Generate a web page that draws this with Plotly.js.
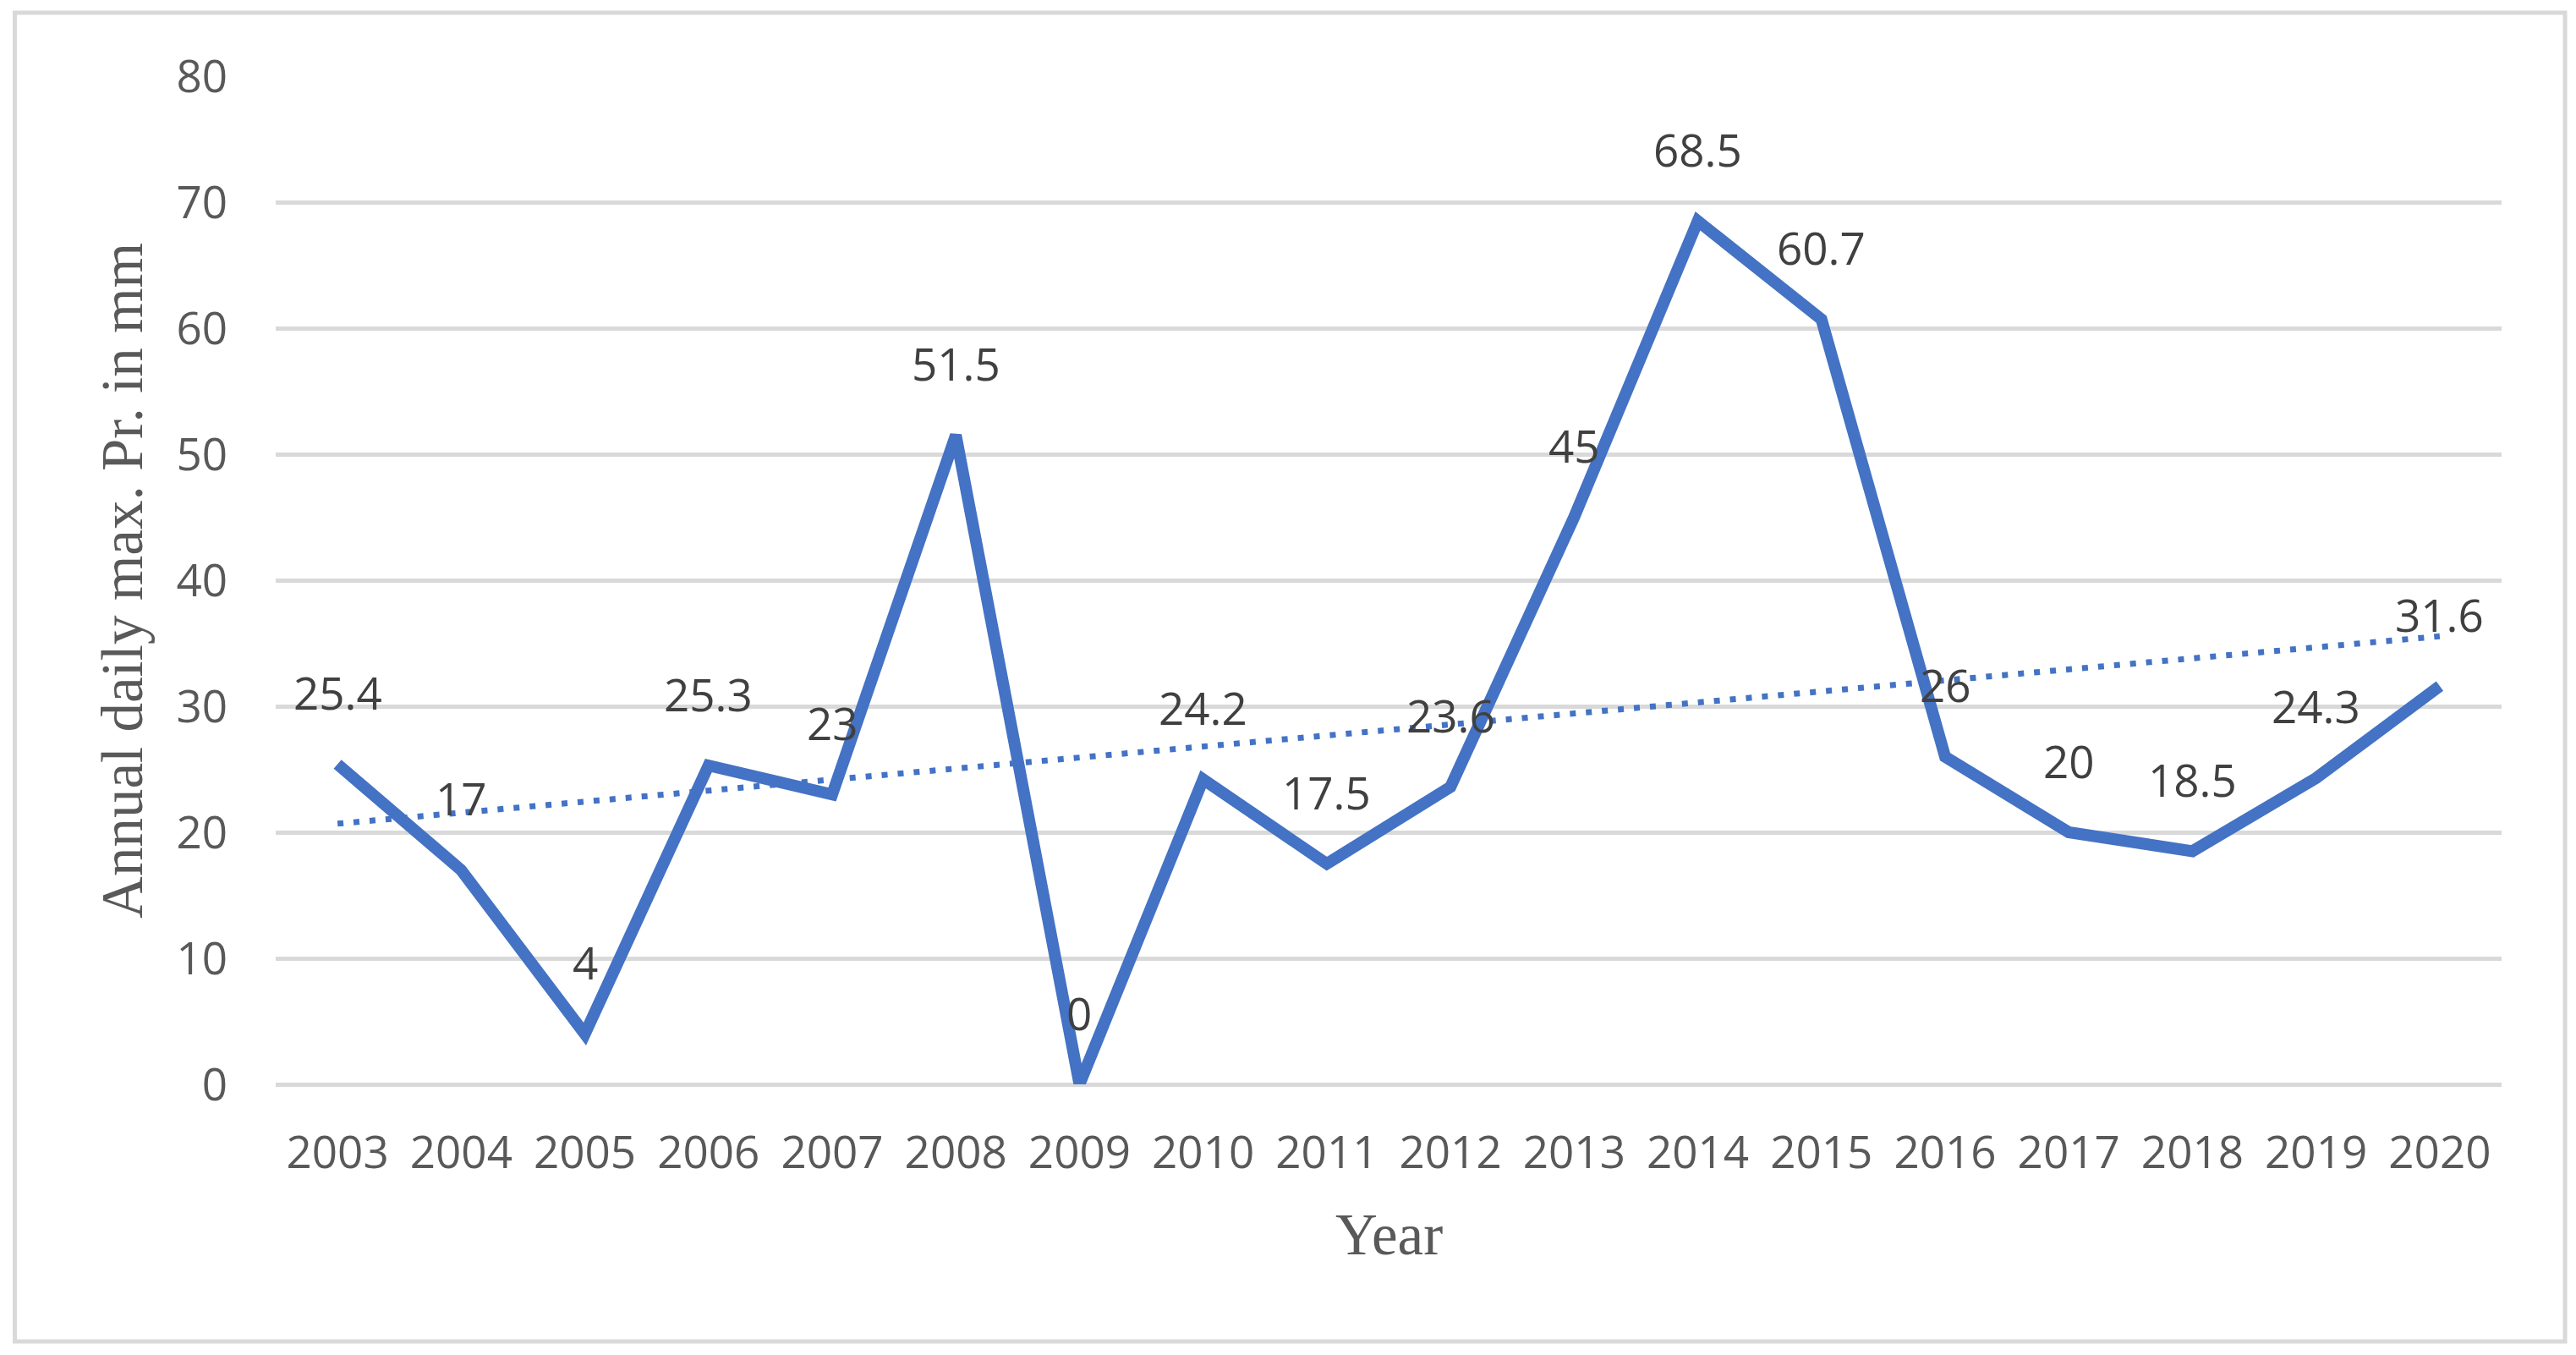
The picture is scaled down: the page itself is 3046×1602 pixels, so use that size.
<!DOCTYPE html>
<html>
<head>
<meta charset="utf-8">
<script src="https://cdn.plot.ly/plotly-3.0.1.min.js"></script>
<style>
  html, body { margin: 0; padding: 0; background: #ffffff; }
  #chart { width: 3046px; height: 1602px; }
</style>
</head>
<body>
<div id="chart"></div>
<script>
// ---- data ----
const years = ["2003","2004","2005","2006","2007","2008","2009","2010","2011","2012",
               "2013","2014","2015","2016","2017","2018","2019","2020"];
const maxPr = [25.4, 17, 4, 25.3, 23, 51.5, 0, 24.2, 17.5, 23.6,
               45, 68.5, 60.7, 26, 20, 18.5, 24.3, 31.6];
const yTicks = [0, 10, 20, 30, 40, 50, 60, 70, 80];
const xTitle = "Year";
const yTitle = "Annual daily max. Pr. in mm";

// linear trendline (least squares over year index), as Excel does
const n = maxPr.length;
const idx = maxPr.map((_, i) => i);
const mx = idx.reduce((a, b) => a + b, 0) / n;
const my = maxPr.reduce((a, b) => a + b, 0) / n;
let sxy = 0, sxx = 0;
for (let i = 0; i < n; i++) { sxy += (idx[i] - mx) * (maxPr[i] - my); sxx += (idx[i] - mx) * (idx[i] - mx); }
const slope = sxy / sxx;
const intercept = my - slope * mx;
const trend = idx.map(i => intercept + slope * i);

const blue = "#4472C4";
const tickFont = { family: "Open Sans, sans-serif", size: 53, color: "#595959" };
const labelFont = { family: "Open Sans, sans-serif", size: 53, color: "#404040" };
const titleFont = { family: "Liberation Serif, Times New Roman, serif", size: 69, color: "#595959" };

const traces = [
  {
    type: "scatter", mode: "lines", x: years, y: maxPr,
    line: { color: blue, width: 14, shape: "linear" },
    hoverinfo: "x+y", showlegend: false
  },
  {
    type: "scatter", mode: "lines", x: years, y: trend,
    line: { color: blue, width: 7, dash: "7px,12px" },
    hoverinfo: "skip", showlegend: false
  }
];

// data labels: category axis positions are given by serial index
const annotations = years.map((yr, i) => ({
  x: i, y: maxPr[i], xref: "x", yref: "y",
  text: String(maxPr[i]), showarrow: false,
  xanchor: "center", yanchor: "middle", yshift: 85,
  font: labelFont
}));

annotations.push({
  xref: "paper", yref: "paper", x: 0.5, y: -0.1493,
  text: xTitle, showarrow: false, xanchor: "center", yanchor: "middle",
  font: titleFont
});
annotations.push({
  xref: "paper", yref: "paper", x: -0.0688, y: 0.5,
  text: yTitle, showarrow: false, xanchor: "center", yanchor: "middle",
  textangle: -90, font: titleFont
});

const layout = {
  width: 3046, height: 1602,
  margin: { l: 326, r: 88, t: 90, b: 320, pad: 0 },
  paper_bgcolor: "#ffffff", plot_bgcolor: "#ffffff",
  showlegend: false,
  xaxis: {
    type: "category", range: [-0.5, 17.5],
    showgrid: false, zeroline: false, showline: false,
    ticks: "", tickfont: tickFont, ticklabelstandoff: 45,
    fixedrange: true
  },
  yaxis: {
    range: [0, 80], tickvals: yTicks, ticktext: yTicks.map(String),
    showgrid: true, gridcolor: "#d9d9d9", gridwidth: 5,
    zeroline: true, zerolinecolor: "#d9d9d9", zerolinewidth: 5,
    showline: false, ticks: "", tickfont: tickFont, ticklabelstandoff: 56,
    fixedrange: true
  },
  shapes: [{
    type: "rect", xref: "paper", yref: "paper",
    x0: -0.1172, x1: 1.0285, y0: -0.2550, y1: 1.0629,
    line: { color: "#d9d9d9", width: 5 }, fillcolor: "rgba(0,0,0,0)", layer: "below"
  }],
  annotations: annotations
};

Plotly.newPlot("chart", traces, layout, { staticPlot: true, displayModeBar: false });
</script>
</body>
</html>
